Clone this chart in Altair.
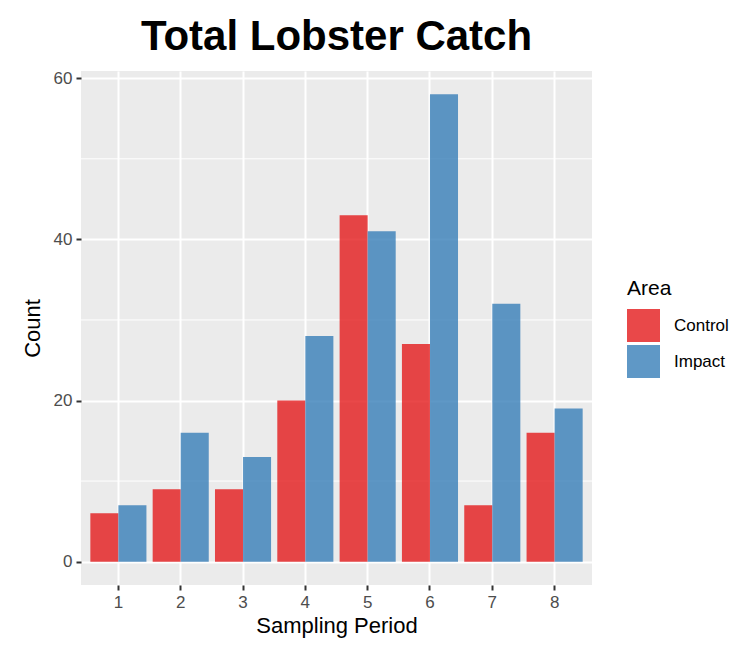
import altair as alt
import pandas as pd

periods = ["1", "2", "3", "4", "5", "6", "7", "8"]
control = [6, 9, 9, 20, 43, 27, 7, 16]
impact = [7, 16, 13, 28, 41, 58, 32, 19]
areas = ["Control", "Impact"]
colors = ["#E41A1C", "#377EB8"]
y_ticks = [0, 20, 40, 60]
minor_ticks = [10, 30, 50]

df = pd.DataFrame({
    "Period": periods * 2,
    "Area": [areas[0]] * len(periods) + [areas[1]] * len(periods),
    "Count": control + impact,
})
minor = pd.DataFrame({"y": minor_ticks})

FONT = "Liberation Sans"
yscale = alt.Scale(domain=[-2.9, 60.9], nice=False, zero=False)
xscale = alt.Scale(paddingInner=0.1, paddingOuter=0.15)

y_axis = alt.Axis(
    title="Count", values=y_ticks, grid=True, domain=False,
    tickSize=5, tickWidth=2, tickColor="#333333",
    labelColor="#4D4D4D", labelFontSize=17, labelPadding=4,
    titleFontSize=22, titleFontWeight="normal", titleColor="black",
    titlePadding=9,
)

rules = alt.Chart(minor).mark_rule(color="white", strokeWidth=1).encode(
    y=alt.Y("y:Q", scale=yscale, axis=y_axis, title="Count")
)

bars = alt.Chart(df).mark_bar(opacity=0.8).encode(
    x=alt.X(
        "Period:N",
        scale=xscale,
        sort=periods,
        axis=alt.Axis(
            title="Sampling Period", labelAngle=0, bandPosition=0.5, grid=True,
            domain=False, tickSize=5, tickWidth=2, tickColor="#333333",
            labelColor="#4D4D4D", labelFontSize=17, labelPadding=4,
            titleFontSize=22, titleFontWeight="normal", titleColor="black",
            titlePadding=5,
        ),
    ),
    xOffset=alt.XOffset("Area:N", scale=alt.Scale(domain=areas, paddingInner=0, paddingOuter=0)),
    y=alt.Y("Count:Q", scale=yscale, axis=y_axis, title="Count"),
    y2=alt.datum(0),
    color=alt.Color(
        "Area:N",
        scale=alt.Scale(domain=areas, range=colors),
        legend=alt.Legend(
            title="Area", orient="none", legendX=546, legendY=207,
            titleFontSize=21, titleFontWeight="normal", titleColor="black",
            titlePadding=10, labelFontSize=17, labelColor="black",
            symbolType="square", symbolSize=1089, symbolStrokeWidth=0,
            symbolOpacity=0.8, rowPadding=3, labelOffset=14,
        ),
    ),
)

chart = alt.layer(rules, bars).properties(
    width=511,
    height=514,
    title=alt.TitleParams(
        "Total Lobster Catch", fontSize=42, fontWeight="bold", font=FONT,
        anchor="middle", color="black", baseline="bottom", offset=10, dy=42,
    ),
    autosize=alt.AutoSizeParams(type="none"),
    padding={"left": 73, "top": 63, "right": 150, "bottom": 55},
).configure(
    font=FONT,
).configure_view(
    fill="#EBEBEB", stroke=None
).configure_axis(
    gridColor="white", gridWidth=2, labelFont=FONT, titleFont=FONT
).configure_legend(
    labelFont=FONT, titleFont=FONT
)

chart.save("out.html", embed_options={"renderer": "svg", "actions": False})
